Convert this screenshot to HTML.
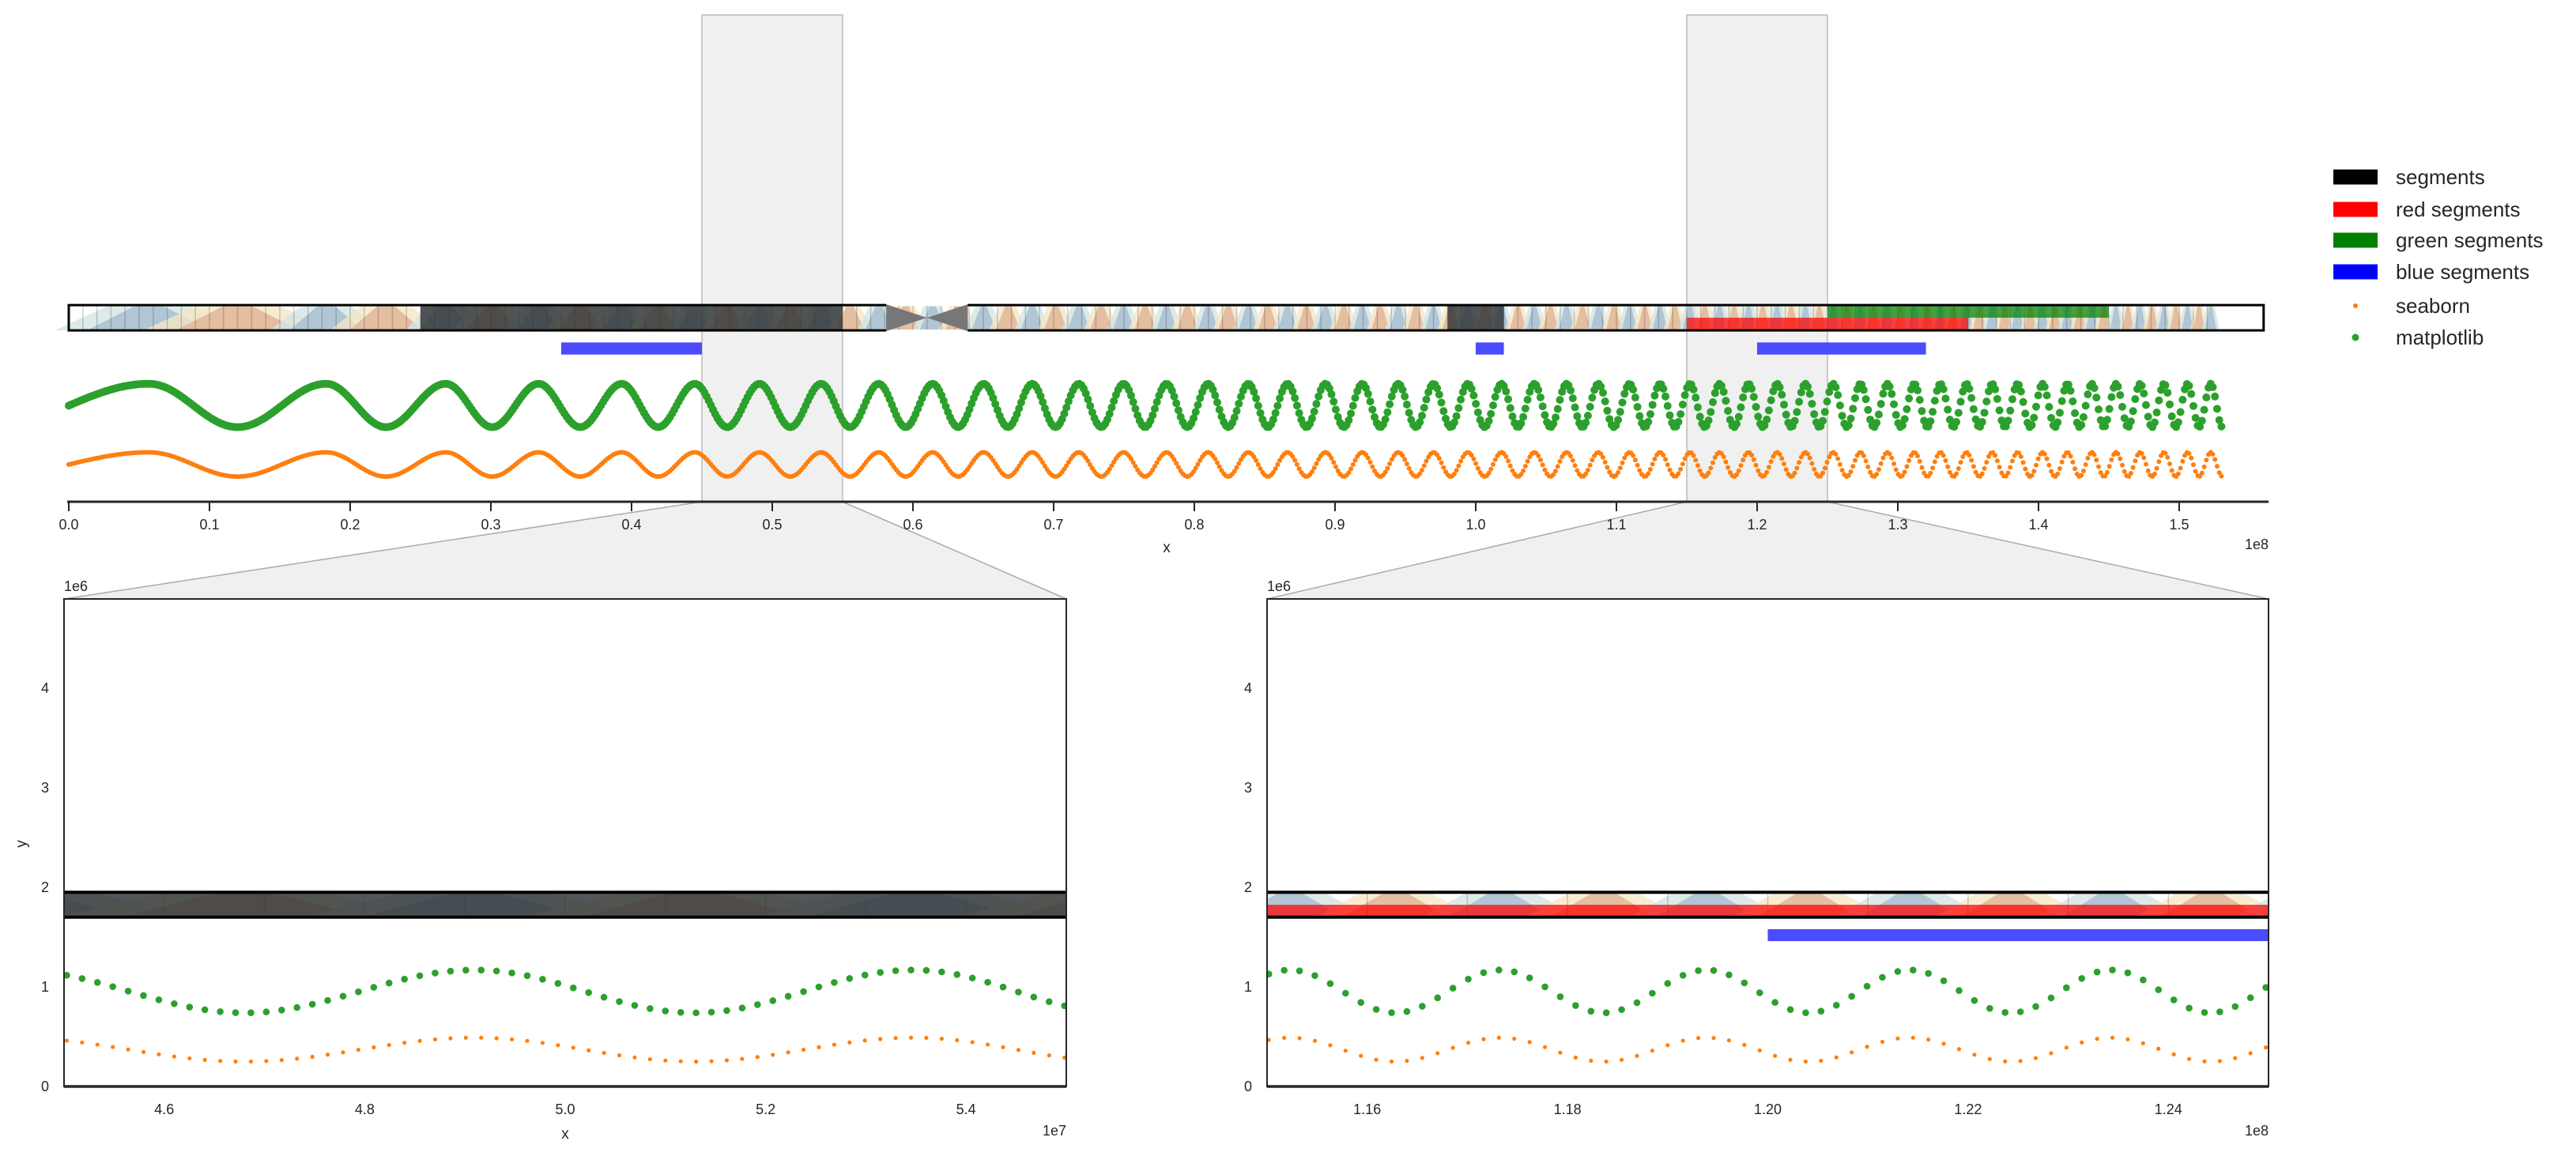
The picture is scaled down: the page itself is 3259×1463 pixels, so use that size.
<!DOCTYPE html>
<html><head><meta charset="utf-8"><style>
html,body{margin:0;padding:0;background:#fff;}
svg{display:block;font-family:"Liberation Sans",Arial,sans-serif;}
</style></head><body>
<svg id="chart" width="3259" height="1463" viewBox="0 0 3259 1463" xmlns="http://www.w3.org/2000/svg">
<defs>
<clipPath id="clipL"><rect x="81" y="758" width="1268" height="617"/></clipPath>
<clipPath id="clipR"><rect x="1603" y="758" width="1267" height="617"/></clipPath>
<clipPath id="clipT"><rect x="40" y="300" width="2830" height="340"/></clipPath>
</defs>
</svg>
<script>
// ---- data (x in units of 1e8, y in units of 1e6) ----
const wavePeaks = [-0.17,0.057,0.183,0.268,0.334,0.393,0.445,0.491,0.5348,0.5757,0.6140,0.6503,0.6848,0.7179,0.7497,0.7803,0.8098,0.8384,0.8662,0.8932,0.9194,0.9450,0.9700,0.9944,1.0183,1.0417,1.0646,1.0871,1.1093,1.1310,1.1523,1.1733,1.1939,1.2142,1.2343,1.2541,1.2734,1.2926,1.3117,1.3303,1.3488,1.3671,1.3851,1.4029,1.4205,1.4379,1.4551,1.4722,1.4892,1.5059,1.5224];
const sampleCount = 1000;
const sampleEnd = 1.53;
const greenLevel = [0.955, 0.215];   // centre, amplitude (matplotlib)
const orangeLevel = [0.37, 0.12];    // centre, amplitude (seaborn)
const darkSegments = [[0.25,0.55],[0.98,1.02]];
const redSegments = [[1.15,1.35]];
const greenSegments = [[1.25,1.45]];
const blueSegments = [[0.35,0.45],[1.0,1.02],[1.2,1.32]];
const centromere = [0.581,0.639];
const chromEnd = 1.56;
const chromY = [1.7,1.95];
const blueY = [1.46,1.58];
const zoomWindows = [[0.45,0.55],[1.15,1.25]];
const topTicks = [0,0.1,0.2,0.3,0.4,0.5,0.6,0.7,0.8,0.9,1.0,1.1,1.2,1.3,1.4,1.5];
const leftTicks = [0.46,0.48,0.50,0.52,0.54];
const leftTickLabels = ["4.6","4.8","5.0","5.2","5.4"];
const rightTicks = [1.16,1.18,1.20,1.22,1.24];
const rightTickLabels = ["1.16","1.18","1.20","1.22","1.24"];
const yTicks = [0,1,2,3,4];
const legendLabels = ["segments","red segments","green segments","blue segments","seaborn","matplotlib"];

const NS = "http://www.w3.org/2000/svg";
const svg = document.getElementById('chart');
function mk(tag, attrs, parent){const e=document.createElementNS(NS,tag);for(const k in attrs)e.setAttribute(k,attrs[k]);(parent||svg).appendChild(e);return e;}

const topX = v => 87 + v*1780;
const topY = v => 635 - v*127.6;
const leftX = v => 81 + (v-0.45)*12680;
const rightX = v => 1603 + (v-1.15)*12670;
const botY = v => 1375 - v*126;

function waveT(x){
  let i = 0;
  while(i < wavePeaks.length-2 && x >= wavePeaks[i+1]) i++;
  const p0 = wavePeaks[i], p1 = wavePeaks[i+1];
  return (x-p0)/(p1-p0);
}
const xs = [];
for(let i=0;i<sampleCount;i++) xs.push(sampleEnd*i/(sampleCount-1));

function drawChrom(g, X, Y, panel){
  const top = Y(chromY[1]), bot = Y(chromY[0]), h = bot-top;
  // bands from wave peaks (blue) and troughs (tan)
  for(let i=1;i<wavePeaks.length;i++){
    const p = wavePeaks[i];
    const prev = wavePeaks[i-1];
    const next = i+1<wavePeaks.length ? wavePeaks[i+1] : p+(p-prev);
    const P = (next-prev)/2;
    const bands = [[p,'#d3e5e3','#a9bfd1','blue'],[(p+next)/2,'#f5e6c6','#e0b699','tan']];
    for(const b of bands){
      const c=b[0]; if(c>sampleEnd) continue;
      const halo = mk('polygon',{points:`${X(c-0.38*P)},${bot} ${X(c-0.16*P)},${top} ${X(c+0.16*P)},${top} ${X(c+0.38*P)},${bot}`,fill:b[1],opacity:0.8},g);
      
      
      const core = mk('polygon',{points:`${X(c-0.25*P)},${bot} ${X(c-0.06*P)},${top+h*0.05} ${X(c+0.06*P)},${top+h*0.05} ${X(c+0.25*P)},${bot}`,fill:b[2],opacity:0.85},g);
      
      
    }
  }
  for(let v=0; v<=1.53; v+=0.01){
    const ln = mk('line',{x1:X(v),x2:X(v),y1:top,y2:bot,stroke:'rgba(0,0,0,0.18)','stroke-width':1.5},g);
    
    
  }
  for(const s of darkSegments){
    const r = mk('rect',{x:X(s[0]),y:top,width:X(s[1])-X(s[0]),height:h,fill:'rgb(45,50,52)',opacity:0.82},g);
    
    
  }
  for(const s of redSegments){
    const r = mk('rect',{x:X(s[0]),y:Y(1.825),width:X(s[1])-X(s[0]),height:Y(chromY[0])-Y(1.825),fill:'rgb(255,0,0)',opacity:0.72},g);
    
    
  }
  for(const s of greenSegments){
    const r = mk('rect',{x:X(s[0]),y:top,width:X(s[1])-X(s[0]),height:Y(1.825)-top,fill:'rgb(0,128,0)',opacity:0.72},g);
    
    
  }
  const mid=(top+bot)/2, c0=X(centromere[0]), c1=X(centromere[1]), cm=(c0+c1)/2;
  if(panel==='top'){
    const wb = mk('rect',{x:c0,y:top-3,width:c1-c0,height:4,fill:'#fff'},g);  
    const wb2 = mk('rect',{x:c0,y:bot-1,width:c1-c0,height:4,fill:'#fff'},g);  
    const cl = mk('polygon',{points:`${c0},${top-1} ${c0},${bot+1} ${cm},${mid}`,fill:'#777'},g);
    
    
    const cr = mk('polygon',{points:`${c1},${top-1} ${c1},${bot+1} ${cm},${mid}`,fill:'#777'},g);
    
    
    const outline = mk('path',{d:`M${c0},${top} L${X(0)},${top} L${X(0)},${bot} L${c0},${bot} M${c1},${top} L${X(chromEnd)},${top} L${X(chromEnd)},${bot} L${c1},${bot}`,fill:'none',stroke:'#000','stroke-width':3},g);
    
    
  } else {
    const o1 = mk('line',{x1:0,x2:3259,y1:top,y2:top,stroke:'#000','stroke-width':4},g);
    
    
    const o2 = mk('line',{x1:0,x2:3259,y1:bot,y2:bot,stroke:'#000','stroke-width':4},g);
    
    
  }
  for(const s of blueSegments){
    const r = mk('rect',{x:X(s[0]),y:Y(blueY[1]),width:X(s[1])-X(s[0]),height:Y(blueY[0])-Y(blueY[1]),fill:'rgb(75,75,255)'},g);
    
    
  }
}

function drawScatter(g, X, Y, rg, ro, lo, hi){
  for(const x of xs){
    if(x<lo||x>hi) continue;
    const t = waveT(x);
    const cg = mk('circle',{cx:X(x),cy:Y(greenLevel[0]+greenLevel[1]*Math.cos(2*Math.PI*t)),r:rg,fill:'#2ca02c'},g);
    
    
    const co = mk('circle',{cx:X(x),cy:Y(orangeLevel[0]+orangeLevel[1]*Math.cos(2*Math.PI*t)),r:ro,fill:'#ff7f0e'},g);
    
    
  }
}

// zoom indicators
const zoomTargets = [[81,1349],[1603,2870]];
zoomWindows.forEach((w,i)=>{
  const a=topX(w[0]), b=topX(w[1]);
  const tr = mk('polygon',{points:`${a},635 ${b},635 ${zoomTargets[i][1]},758 ${zoomTargets[i][0]},758`,fill:'#f0f0f0',stroke:'#aaa','stroke-width':1.5});
  
  
  const zr = mk('rect',{x:a,y:19,width:b-a,height:616,fill:'#f0f0f0',stroke:'#bbb','stroke-width':1.5});
  
  
});

// top panel
const gTop = mk('g',{'clip-path':'url(#clipT)'});


drawChrom(gTop, topX, topY, 'top');
drawScatter(gTop, topX, topY, 5, 3, -1, 9);
const axT = mk('line',{x1:85,x2:2870,y1:635,y2:635,stroke:'#262626','stroke-width':3});


topTicks.forEach(v=>{
  const tk = mk('line',{x1:topX(v),x2:topX(v),y1:635,y2:647,stroke:'#262626','stroke-width':2});
  
  
  const tl = mk('text',{x:topX(v),y:670,'font-size':18,'text-anchor':'middle',fill:'#262626'});
  
  
  tl.textContent = v.toFixed(1);
});
let t1 = mk('text',{x:1476,y:699,'font-size':19,'text-anchor':'middle',fill:'#262626'}); t1.textContent='x';


let t2 = mk('text',{x:2870,y:695,'font-size':18,'text-anchor':'end',fill:'#262626'}); t2.textContent='1e8';



// bottom panels
function bottomPanel(name, X, x0, x1, clip, ticks, labels, win, offTxt, showXLabel, showYLabel){
  const bg = mk('rect',{x:x0,y:758,width:x1-x0,height:617,fill:'#fff'});
  
  
  const g = mk('g',{'clip-path':`url(#${clip})`});
  
  
  drawChrom(g, X, botY, 'zoom');
  drawScatter(g, X, botY, 4.3, 2.6, win[0]-0.01, win[1]+0.01);
  const fr = mk('rect',{x:x0,y:758,width:x1-x0,height:617,fill:'none',stroke:'#262626','stroke-width':2});
  
  
  const bl = mk('line',{x1:x0,x2:x1,y1:1375,y2:1375,stroke:'#262626','stroke-width':3.5});
  
  
  ticks.forEach((v,i)=>{
    const tl = mk('text',{x:X(v),y:1410,'font-size':18,'text-anchor':'middle',fill:'#262626'});
    
    
    tl.textContent = labels[i];
  });
  yTicks.forEach(v=>{
    const yl = mk('text',{x:x0-19,y:botY(v)+6,'font-size':18,'text-anchor':'end',fill:'#262626'});
    
    
    yl.textContent = String(v);
  });
  const o = mk('text',{x:x1,y:1437,'font-size':18,'text-anchor':'end',fill:'#262626'}); o.textContent=offTxt;
  
  
  const o6 = mk('text',{x:x0,y:748,'font-size':18,'text-anchor':'start',fill:'#262626'}); o6.textContent='1e6';
  
  
  if(showXLabel){
    const xl = mk('text',{x:(x0+x1)/2,y:1441,'font-size':19,'text-anchor':'middle',fill:'#262626'}); xl.textContent='x';
    
    
  }
  if(showYLabel){
    const yl = mk('text',{x:0,y:0,'font-size':19,'text-anchor':'middle',fill:'#262626',transform:`translate(33,1068) rotate(-90)`}); yl.textContent='y';
    
    
  }
}
bottomPanel('zoom-panel-left', leftX, 81, 1349, 'clipL', leftTicks, leftTickLabels, zoomWindows[0], '1e7', true, true);
bottomPanel('zoom-panel-right', rightX, 1603, 2870, 'clipR', rightTicks, rightTickLabels, zoomWindows[1], '1e8', false, false);

// legend
const legendColors = ['#000','#f00','#008000','#00f','#ff7f0e','#2ca02c'];
const legendY = [224,265,304,344,387,427];
legendLabels.forEach((lab,i)=>{
  let m;
  if(i<4){ m = mk('rect',{x:2952,y:legendY[i]-9.5,width:56,height:19,fill:legendColors[i]}); }
  else { m = mk('circle',{cx:2980,cy:legendY[i],r:i===4?3:4.5,fill:legendColors[i]}); }
  
  
  const t = mk('text',{x:3031,y:legendY[i]+9,'font-size':26,fill:'#262626'});
  
  
  t.textContent = lab;
});
</script>
</body></html>
